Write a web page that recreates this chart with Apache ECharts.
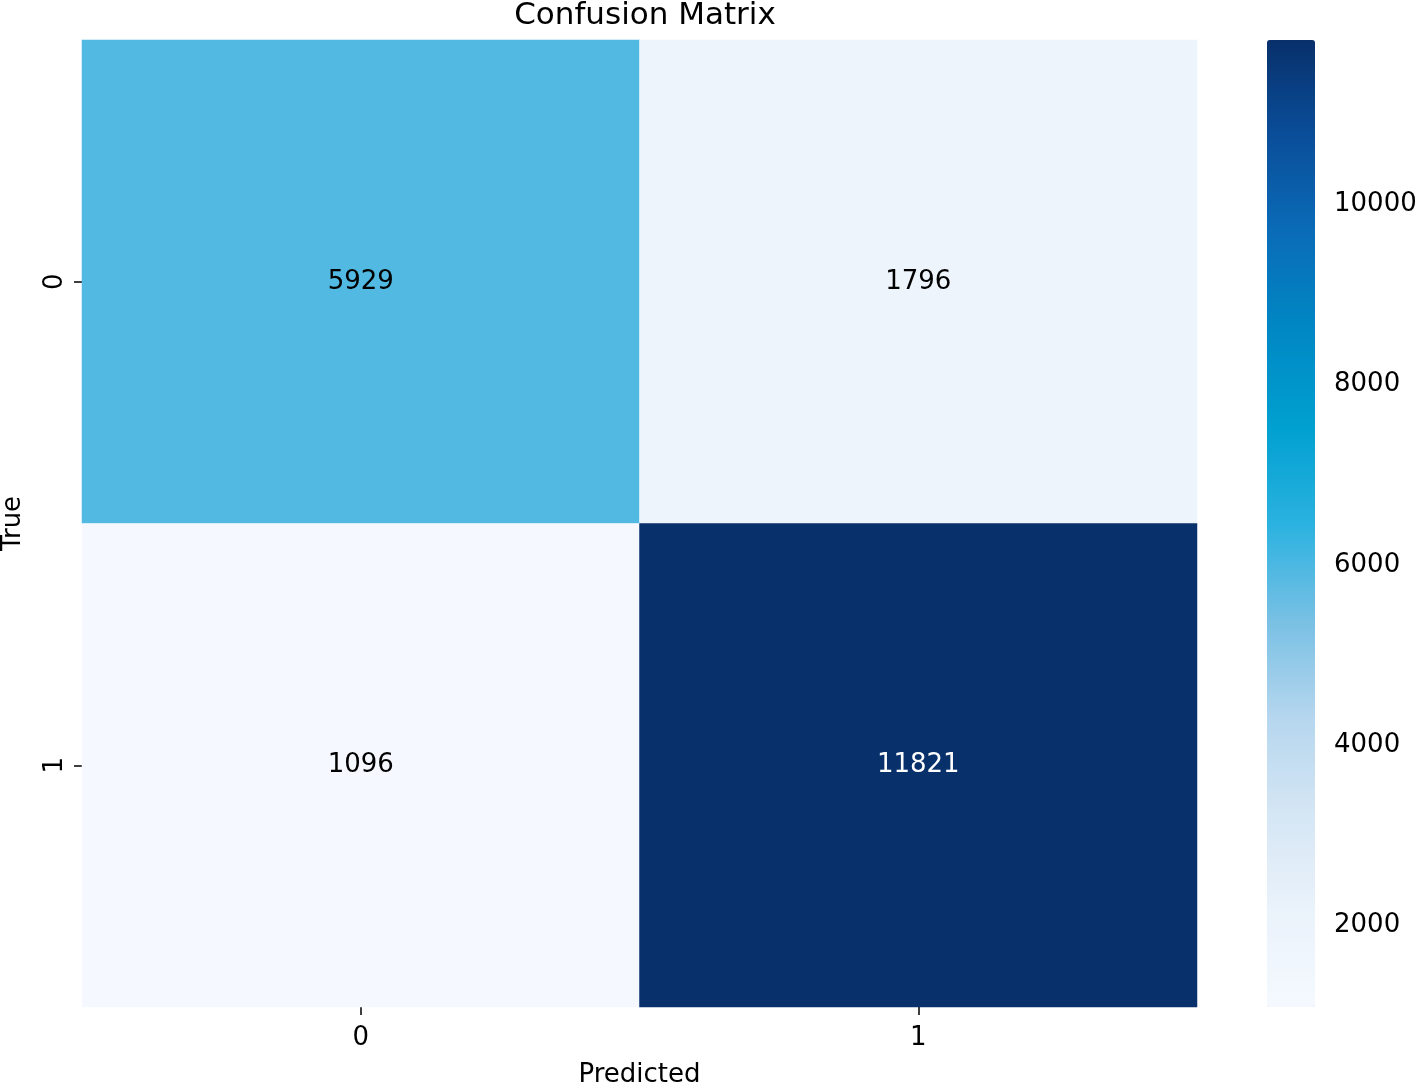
<!DOCTYPE html>
<html><head><meta charset="utf-8">
<script src="https://cdn.jsdelivr.net/npm/echarts@6/dist/echarts.min.js"></script>
<style>html,body{margin:0;padding:0;background:#fff}#c{width:1417px;height:1086px}</style>
</head><body><div id="c"></div>
<script>
const predictedLabels = ['0', '1'];
const trueLabels = ['0', '1'];
const matrixValues = [
  [5929, 1796],
  [1096, 11821]
];
const colorbarTicks = [2000, 4000, 6000, 8000, 10000];
const vMin = 1096, vMax = 11821;

const FONT = 'DejaVu Sans';
const data = [];
for (let r = 0; r < trueLabels.length; r++) {
  for (let c = 0; c < predictedLabels.length; c++) {
    const v = matrixValues[r][c];
    data.push({ value: [c, r, v], label: { color: v > 8000 ? '#ffffff' : '#000000' } });
  }
}

const chart = echarts.init(document.getElementById('c'), null, { renderer: 'canvas' });
chart.setOption({
  backgroundColor: '#ffffff',
  animation: false,
  title: {
    text: 'Confusion Matrix', left: 640, top: -5, textAlign: 'center',
    textStyle: { fontFamily: FONT, fontSize: 31, fontWeight: 'normal', color: '#000' }
  },
  grid: [
    { left: 82, right: 220, top: 40, bottom: 79, outerBoundsMode: 'none', containLabel: false },
    { left: 1267, width: 48, top: 40, height: 967, outerBoundsMode: 'none', containLabel: false }
  ],
  xAxis: [
    {
      type: 'category', data: predictedLabels, gridIndex: 0,
      name: 'Predicted', nameLocation: 'middle', nameGap: 55,
      nameTextStyle: { fontFamily: FONT, fontSize: 26, color: '#000' },
      axisLine: { show: false },
      axisTick: { show: true, alignWithLabel: true, length: 8, lineStyle: { color: '#000', width: 1.5 } },
      axisLabel: { fontFamily: FONT, fontSize: 26, color: '#000', margin: 18 },
      splitLine: { show: false }
    },
    { type: 'value', gridIndex: 1, show: false, min: 0, max: 1 }
  ],
  yAxis: [
    {
      type: 'category', data: trueLabels, gridIndex: 0, inverse: true,
      name: 'True', nameLocation: 'middle', nameGap: 56, nameRotate: 90,
      nameTextStyle: { fontFamily: FONT, fontSize: 26, color: '#000' },
      axisLine: { show: false },
      axisTick: { show: true, alignWithLabel: true, length: 8, lineStyle: { color: '#000', width: 1.5 } },
      axisLabel: { fontFamily: FONT, fontSize: 26, color: '#000', rotate: 90, margin: 14 },
      splitLine: { show: false }
    },
    {
      type: 'value', gridIndex: 1, position: 'right', min: vMin, max: vMax,
      axisLine: { show: false },
      splitLine: { show: false },
      axisTick: { show: true, customValues: colorbarTicks, length: 8, lineStyle: { color: '#000', width: 1.5 } },
      axisLabel: {
        show: true, customValues: colorbarTicks, fontFamily: FONT, fontSize: 26, color: '#000', margin: 19,
        formatter: function (v) { return String(v); }
      }
    }
  ],
  visualMap: {
    type: 'continuous', min: vMin, max: vMax, seriesIndex: 0,
    left: 1267, top: 40, itemWidth: 48, itemHeight: 967, padding: 0,
    calculable: false, showLabel: false, text: null,
    inRange: {
      color: ['#f5f9ff', '#eaf2fb', '#d5e6f4', '#b5d6ee', '#78c0e4', '#2ab2e0',
              '#00a0d0', '#0088c4', '#0a6cb8', '#0a4e9a', '#08306b']
    }
  },
  series: [{
    type: 'heatmap', xAxisIndex: 0, yAxisIndex: 0, data: data,
    label: { show: true, fontFamily: FONT, fontSize: 26 },
    itemStyle: { borderWidth: 0 },
    emphasis: { disabled: true }
  }]
});
</script></body></html>
